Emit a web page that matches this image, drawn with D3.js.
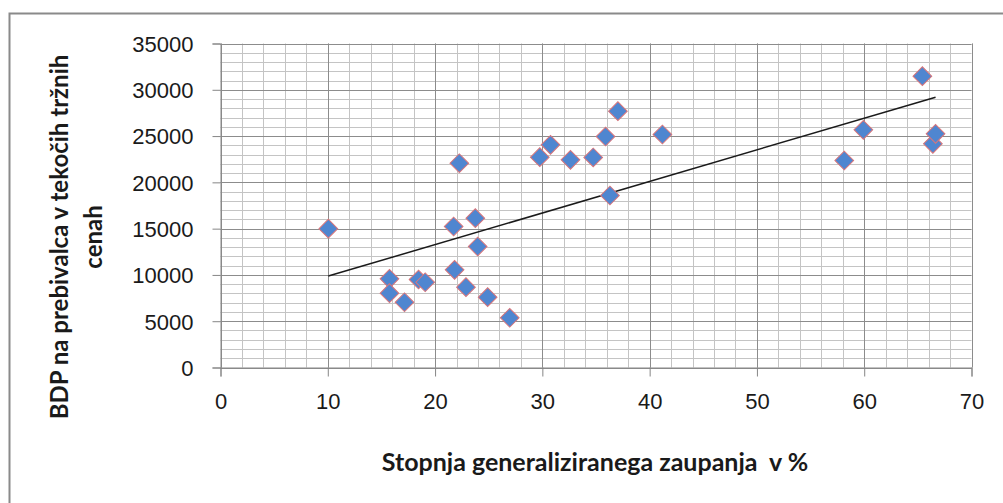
<!DOCTYPE html>
<html>
<head>
<meta charset="utf-8">
<script src="https://cdn.jsdelivr.net/npm/d3@7"></script>
<style>
  body { margin: 0; background: #fff; }
  svg { display: block; font-family: Lato, "Open Sans", sans-serif; }
</style>
</head>
<body>
<svg id="graph" width="1003" height="503"></svg>
<script>
// stopnja generaliziranega zaupanja (%) and BDP na prebivalca
var trust = [10.05, 15.75, 15.75, 17.15, 18.46, 19.08, 21.73, 22.26, 21.82, 22.88,
             23.75, 23.97, 24.9, 26.96, 29.76, 30.76, 32.62, 34.74, 35.89, 36.3,
             37.04, 41.19, 58.14, 59.92, 65.42, 66.4, 66.65];
var gdp = [15000, 9580, 8030, 7050, 9500, 9210, 15230, 22070, 10550, 8680,
           16130, 13070, 7600, 5370, 22720, 24050, 22430, 22690, 24950, 18580,
           27690, 25170, 22360, 25670, 31470, 24160, 25240];

var xTicks = [0, 10, 20, 30, 40, 50, 60, 70];
var yTicks = [0, 5000, 10000, 15000, 20000, 25000, 30000, 35000];
var xTitle = "Stopnja generaliziranega zaupanja  v %";
var yTitle = ["BDP na prebivalca v tekočih tržnih", "cenah"];

var svg = d3.select("#graph");
var plot = {left: 220.5, top: 43.5, right: 971.5, bottom: 367.5};

// outer chart frame (right and bottom fall outside the picture)
svg.append("rect")
  .attr("x", 9.5).attr("y", 13.5)
  .attr("width", 1100).attr("height", 600)
  .attr("fill", "none").attr("stroke", "#8a8a8a").attr("stroke-width", 2);

var xScale = d3.scaleLinear().domain([0, 70]).range([plot.left, plot.right]);
var yScale = d3.scaleLinear().domain([0, 35000]).range([plot.bottom, plot.top]);

//---------grid---------
var grid = svg.append("g");
grid.selectAll("line.vminor")
  .data(d3.range(0, 71, 2))
  .enter().append("line")
  .attr("x1", function (d) { return Math.round(xScale(d)) + 0.5; })
  .attr("x2", function (d) { return Math.round(xScale(d)) + 0.5; })
  .attr("y1", plot.top).attr("y2", plot.bottom)
  .attr("stroke", "#c4c4c4");
grid.selectAll("line.hminor")
  .data(d3.range(0, 35001, 1000))
  .enter().append("line")
  .attr("y1", function (d) { return Math.round(yScale(d)) + 0.5; })
  .attr("y2", function (d) { return Math.round(yScale(d)) + 0.5; })
  .attr("x1", plot.left).attr("x2", plot.right)
  .attr("stroke", "#c4c4c4");
grid.selectAll("line.vmajor")
  .data(xTicks)
  .enter().append("line")
  .attr("x1", function (d) { return Math.round(xScale(d)) + 0.5; })
  .attr("x2", function (d) { return Math.round(xScale(d)) + 0.5; })
  .attr("y1", plot.top).attr("y2", plot.bottom)
  .attr("stroke", "#8c8c8c");
grid.selectAll("line.hmajor")
  .data(yTicks)
  .enter().append("line")
  .attr("y1", function (d) { return Math.round(yScale(d)) + 0.5; })
  .attr("y2", function (d) { return Math.round(yScale(d)) + 0.5; })
  .attr("x1", plot.left).attr("x2", plot.right)
  .attr("stroke", "#8c8c8c");

//---------axes---------
var xAxis = d3.axisBottom(xScale).tickValues(xTicks).tickSize(9).tickPadding(17)
  .tickFormat(d3.format("d"));
var yAxis = d3.axisLeft(yScale).tickValues(yTicks).tickSize(8).tickPadding(19)
  .tickFormat(d3.format("d"));

var gx = svg.append("g")
  .attr("transform", "translate(0," + plot.bottom + ")")
  .call(xAxis);
var gy = svg.append("g")
  .attr("transform", "translate(" + plot.left + ",0)")
  .call(yAxis);

[gx, gy].forEach(function (g) {
  g.selectAll("path, line").attr("stroke", "#868686");
  g.selectAll("text")
    .attr("fill", "#1a1a1a")
    .style("font-size", "22px");
});
gy.selectAll("text").attr("dy", "0.36em");

// axis titles
svg.append("text")
  .attr("x", 595).attr("y", 471)
  .attr("text-anchor", "middle")
  .style("font-size", "25px").style("font-weight", "bold")
  .style("white-space", "pre")
  .attr("fill", "#1a1a1a")
  .text(xTitle);

var yt = svg.append("text")
  .attr("transform", "translate(68,237) rotate(-90)")
  .attr("text-anchor", "middle")
  .style("font-size", "24px").style("font-weight", "bold")
  .attr("fill", "#1a1a1a");
yt.selectAll("tspan")
  .data(yTitle)
  .enter().append("tspan")
  .attr("x", 0)
  .attr("dy", function (d, i) { return i === 0 ? 0 : 34; })
  .text(function (d) { return d; });

//---------trend line (least squares)---------
var mx = d3.mean(trust), my = d3.mean(gdp);
var sxy = d3.sum(trust, function (x, i) { return (x - mx) * (gdp[i] - my); });
var sxx = d3.sum(trust, function (x) { return (x - mx) * (x - mx); });
var slope = sxy / sxx;
var icpt = my - slope * mx;
var xr = d3.extent(trust);

svg.append("line")
  .attr("x1", xScale(xr[0])).attr("y1", yScale(icpt + slope * xr[0]))
  .attr("x2", xScale(xr[1])).attr("y2", yScale(icpt + slope * xr[1]))
  .attr("stroke", "#1a1a1a").attr("stroke-width", 1.5);

//---------points---------
var diamond = d3.symbol().type(d3.symbolSquare).size(175);
svg.append("g")
  .selectAll("path")
  .data(trust)
  .enter().append("path")
  .attr("d", diamond)
  .attr("transform", function (x, i) {
    return "translate(" + xScale(x) + "," + yScale(gdp[i]) + ") rotate(45)";
  })
  .attr("fill", "#4f86d0")
  .attr("stroke", "#d9757a")
  .attr("stroke-width", 1);
</script>
</body>
</html>
